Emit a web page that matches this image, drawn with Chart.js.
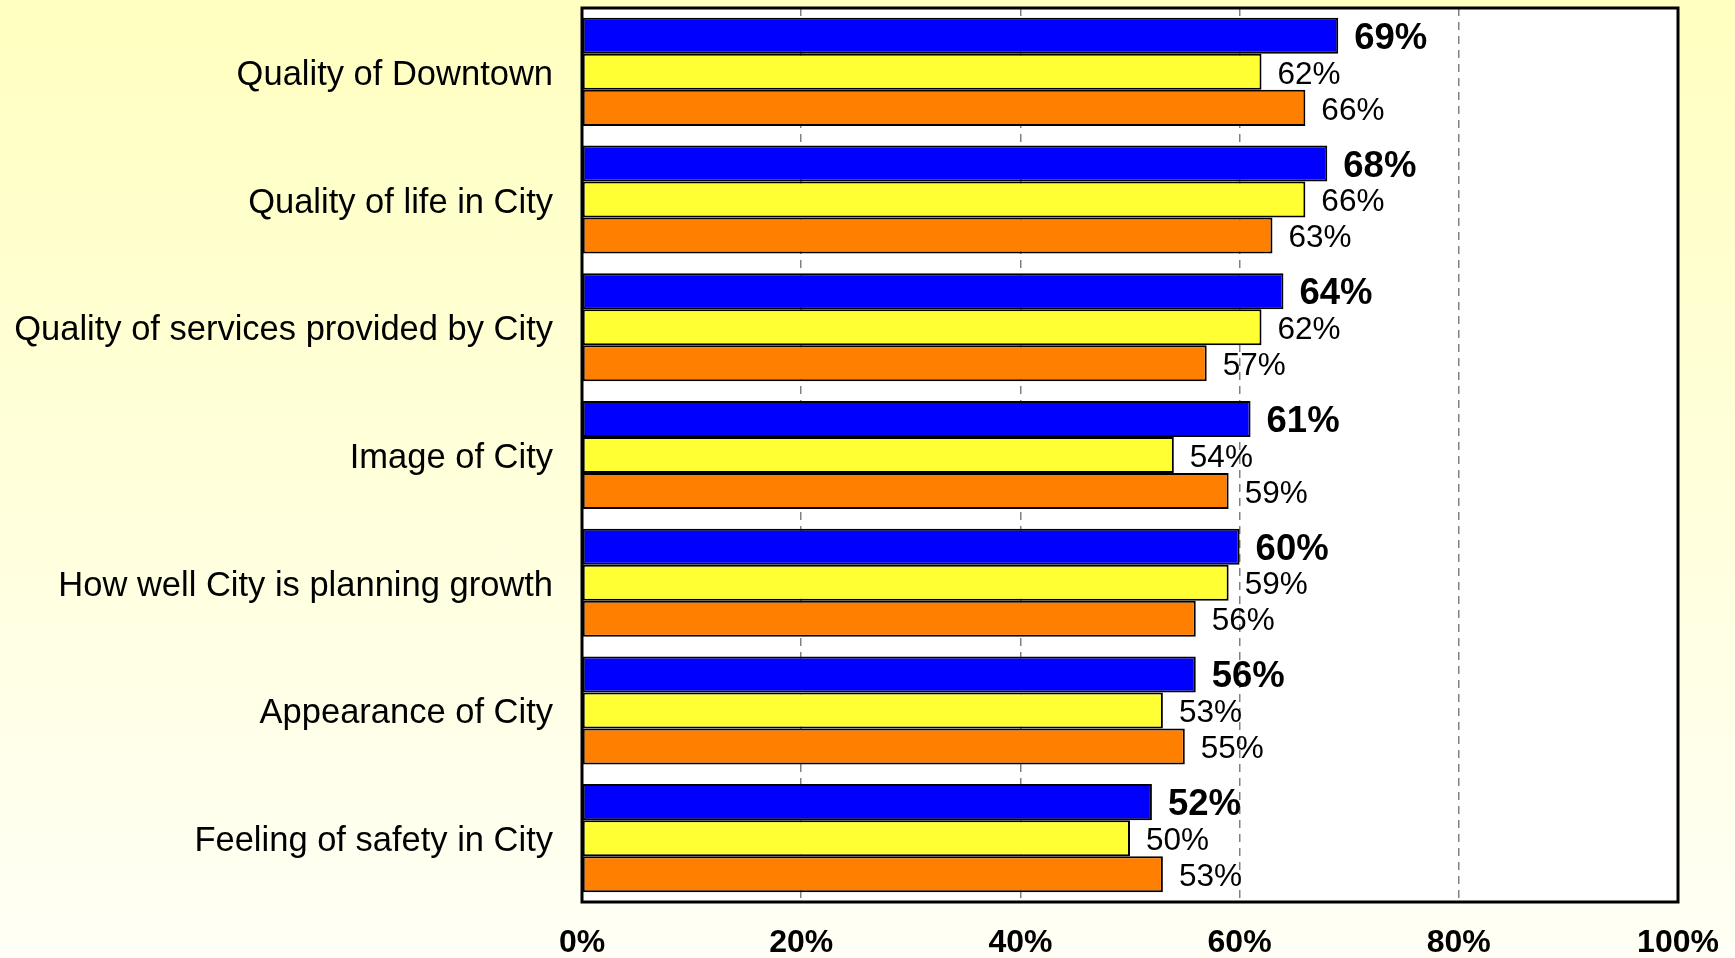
<!DOCTYPE html>
<html>
<head>
<meta charset="utf-8">
<script src="https://cdn.jsdelivr.net/npm/chart.js@4/dist/chart.umd.min.js"></script>
<style>
    html, body { margin: 0; padding: 0; }
    body { width: 1735px; height: 958px; background: linear-gradient(to bottom, #ffffc0 0%, #fffff6 100%); overflow: hidden; }
    #wrap { position: relative; width: 1735px; height: 958px; }
</style>
</head>
<body>
<div id="wrap"><canvas id="satisfactionChart"></canvas></div>
<script>
// Dados
const categories = [
    'Quality of Downtown',
    'Quality of life in City',
    'Quality of services provided by City',
    'Image of City',
    'How well City is planning growth',
    'Appearance of City',
    'Feeling of safety in City'
];
const blueValues = [69, 68, 64, 61, 60, 56, 52];
const yellowValues = [62, 66, 62, 54, 59, 53, 50];
const orangeValues = [66, 63, 57, 59, 56, 55, 53];
const xTicks = [0, 20, 40, 60, 80, 100];

const FONT = "'Liberation Sans', Arial, sans-serif";

// fundo branco da área do gráfico + moldura preta
const plotFrame = {
    id: 'plotFrame',
    beforeDraw(chart) {
        const a = chart.chartArea;
        const ctx = chart.ctx;
        ctx.save();
        ctx.fillStyle = '#ffffff';
        ctx.fillRect(a.left, a.top, a.right - a.left, a.bottom - a.top);
        ctx.restore();
    },
    afterDatasetsDraw(chart) {
        const a = chart.chartArea;
        const ctx = chart.ctx;
        ctx.save();
        ctx.strokeStyle = '#000000';
        ctx.lineWidth = 3;
        ctx.strokeRect(a.left, a.top, a.right - a.left, a.bottom - a.top);
        ctx.restore();
    }
};

// rótulos de valor à direita das barras
const valueLabels = {
    id: 'valueLabels',
    afterDatasetsDraw(chart) {
        const ctx = chart.ctx;
        ctx.save();
        ctx.textAlign = 'left';
        ctx.textBaseline = 'middle';
        ctx.fillStyle = '#000000';
        chart.data.datasets.forEach(function(ds, i) {
            const meta = chart.getDatasetMeta(i);
            ctx.font = (i === 0 ? 'bold 36.5px ' : '31.5px ') + FONT;
            meta.data.forEach(function(bar, j) {
                ctx.fillText(ds.data[j] + '%', bar.x + 16, bar.y + 3);
            });
        });
        ctx.restore();
    }
};

const ctx = document.getElementById('satisfactionChart').getContext('2d');
new Chart(ctx, {
    type: 'bar',
    data: {
        labels: categories,
        datasets: [
            { label: 'Blue', data: blueValues, backgroundColor: '#0000ff' },
            { label: 'Yellow', data: yellowValues, backgroundColor: '#ffff33' },
            { label: 'Orange', data: orangeValues, backgroundColor: '#ff8000' }
        ].map(function(d) {
            return Object.assign(d, {
                borderColor: '#000000',
                borderWidth: 2,
                borderSkipped: false,
                categoryPercentage: 0.846,
                barPercentage: 1.0
            });
        })
    },
    options: {
        indexAxis: 'y',
        responsive: true,
        maintainAspectRatio: false,
        animation: false,
        layout: { padding: { top: 8, right: 57, left: 0, bottom: 0 } },
        plugins: {
            legend: { display: false },
            tooltip: { enabled: false }
        },
        scales: {
            x: {
                min: 0,
                max: 100,
                afterBuildTicks(axis) {
                    axis.ticks = xTicks.map(function(v) { return { value: v }; });
                },
                afterFit(axis) {
                    axis.height = 56;
                    axis.paddingLeft = 0;
                    axis.paddingRight = 0;
                },
                grid: { color: '#808080', lineWidth: 1.5, drawTicks: false },
                border: { display: false, dash: [8, 6] },
                ticks: {
                    padding: 22,
                    color: '#000000',
                    font: { family: FONT, size: 32, weight: 'bold' },
                    maxRotation: 0,
                    callback: function(v) { return v + '%'; }
                }
            },
            y: {
                afterFit(axis) {
                    axis.width = 582;
                    axis.paddingTop = 0;
                    axis.paddingBottom = 0;
                },
                grid: { display: false, drawTicks: false },
                border: { display: false },
                ticks: {
                    padding: 29,
                    color: '#000000',
                    font: { family: FONT, size: 34.5, lineHeight: '7px' },
                    // linha vazia antes do texto: desce o rótulo ~3px
                    callback: function(v, i) { return ['', categories[i]]; }
                }
            }
        }
    },
    plugins: [plotFrame, valueLabels]
});
</script>
</body>
</html>
